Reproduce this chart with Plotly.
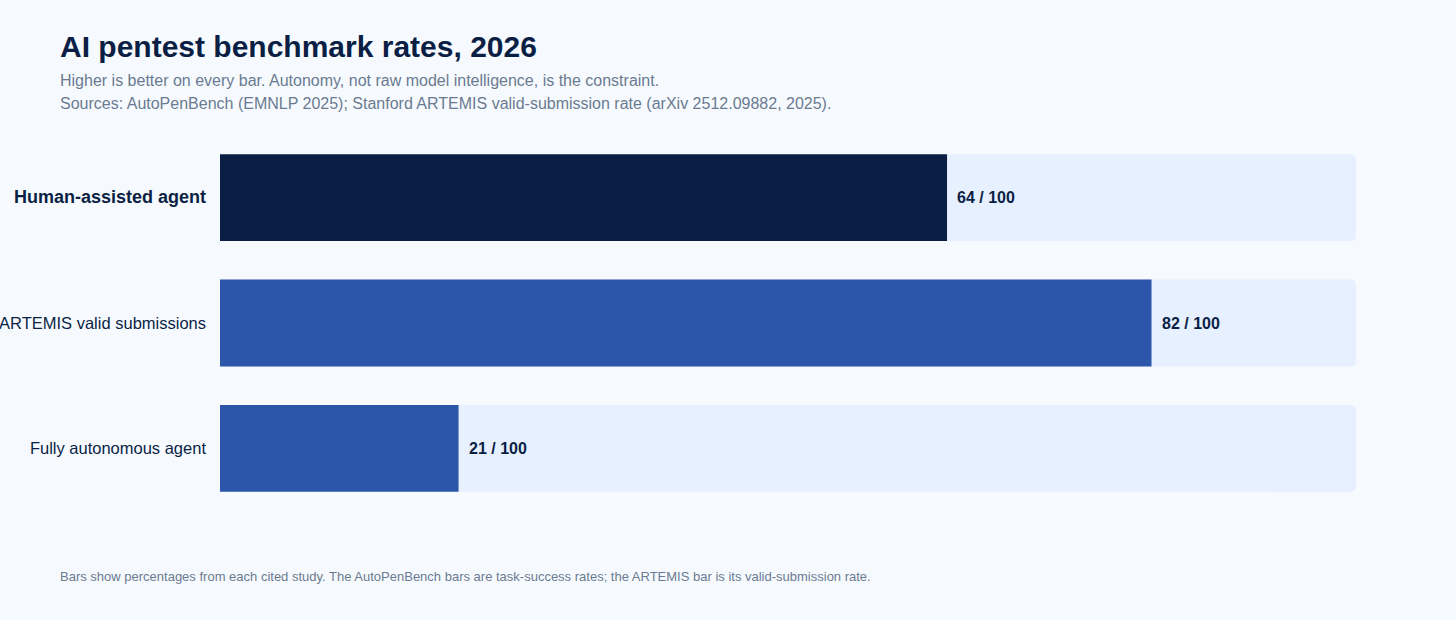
import plotly.graph_objects as go

# data, top to bottom
labels = ["Human-assisted agent", "ARTEMIS valid submissions", "Fully autonomous agent"]
rates = [64, 82, 21]
track_max = [100, 100, 100]
tick_text = ["<span style='font-size:18px'><b>Human-assisted agent</b></span>",
             "ARTEMIS valid submissions", "Fully autonomous agent"]

navy = "#0B1F45"
blue = "#2B56AA"
track = "#E6F0FE"
page_bg = "#F6FAFF"
grey = "#6B7A90"
font = "Liberation Sans, Arial, sans-serif"

bar_colors = [navy, blue, blue]

# plot area in pixels
L, R, T, B = 220, 100, 135, 109
PH = 620 - T - B


def py(px):
    # page pixel row -> paper y
    return (620 - B - px) / PH


def px_(x):
    # page pixel column -> paper x
    return (x - L) / (1456 - L - R)


fig = go.Figure()
# light background track to 100
fig.add_trace(go.Bar(
    y=labels, x=track_max, orientation="h",
    marker=dict(color=track, line=dict(width=0)),
    width=0.693, hoverinfo="skip", showlegend=False,
))
fig.add_trace(go.Bar(
    y=labels, x=rates, orientation="h",
    marker=dict(color=bar_colors, line=dict(width=0)),
    width=0.693, hoverinfo="skip", showlegend=False,
))

for lab, v in zip(labels, rates):
    fig.add_annotation(x=v, y=lab, xref="x", yref="y",
                       text="<b>%d / 100</b>" % v, showarrow=False,
                       xanchor="left", xshift=8,
                       font=dict(size=16, color=navy, family=font))

fig.add_annotation(text="<b>AI pentest benchmark rates, 2026</b>", xref="paper", yref="paper",
                   x=px_(58), y=py(46), xanchor="left", yanchor="middle", showarrow=False,
                   font=dict(size=30, color=navy, family=font))
fig.add_annotation(text="Higher is better on every bar. Autonomy, not raw model intelligence, is the constraint.",
                   xref="paper", yref="paper", x=px_(58), y=py(80),
                   xanchor="left", yanchor="middle", showarrow=False,
                   font=dict(size=16, color=grey, family=font))
fig.add_annotation(text="Sources: AutoPenBench (EMNLP 2025); Stanford ARTEMIS valid-submission rate (arXiv 2512.09882, 2025).",
                   xref="paper", yref="paper", x=px_(58), y=py(103),
                   xanchor="left", yanchor="middle", showarrow=False,
                   font=dict(size=16, color=grey, family=font))
fig.add_annotation(text="Bars show percentages from each cited study. The AutoPenBench bars are task-success rates; "
                        "the ARTEMIS bar is its valid-submission rate.",
                   xref="paper", yref="paper", x=px_(58), y=py(576),
                   xanchor="left", yanchor="middle", showarrow=False,
                   font=dict(size=13, color=grey, family=font))

fig.update_layout(
    width=1456, height=620,
    paper_bgcolor=page_bg, plot_bgcolor=page_bg,
    barmode="overlay", barcornerradius=5,
    margin=dict(l=L, r=R, t=T, b=B, autoexpand=False),
    font=dict(family=font, color=navy),
    xaxis=dict(range=[0, 100], visible=False, fixedrange=True, automargin=False),
    yaxis=dict(autorange="reversed", tickmode="array", tickvals=labels, ticktext=tick_text,
               showgrid=False, zeroline=False, showline=False, ticks="",
               ticklabelstandoff=13, tickfont=dict(size=16.5, color=navy, family=font),
               fixedrange=True, automargin=False),
)

fig.write_html("out.html", config={"displayModeBar": False},
               post_script="document.body.style.margin='0';")
